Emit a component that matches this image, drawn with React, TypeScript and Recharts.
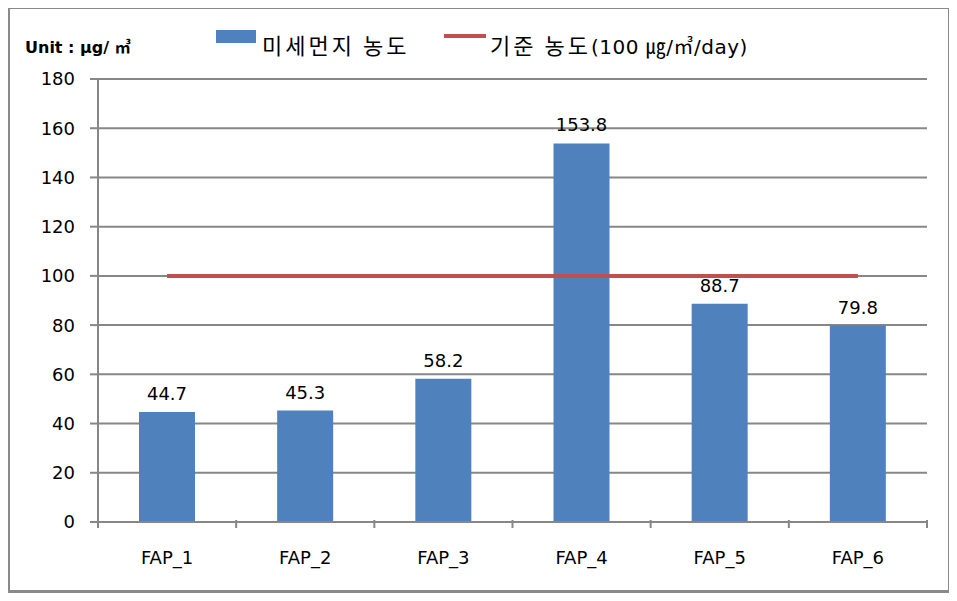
import React from 'react';
import { ComposedChart, Bar, Line, XAxis, YAxis, CartesianGrid, LabelList } from 'recharts';

const categories = ['FAP_1', 'FAP_2', 'FAP_3', 'FAP_4', 'FAP_5', 'FAP_6'];
const dustValues = [44.7, 45.3, 58.2, 153.8, 88.7, 79.8];
const standardValues = [100, 100, 100, 100, 100, 100];
const yTicks = [0, 20, 40, 60, 80, 100, 120, 140, 160, 180];

const data = categories.map((name, i) => ({
  name,
  dust: dustValues[i],
  standard: standardValues[i],
}));

const FONT = '"DejaVu Sans", "Noto Sans CJK KR", sans-serif';
const KFONT = '"Noto Sans CJK KR", "DejaVu Sans", sans-serif';
const GRID = '#878787';

const CategoryTick = (props: any) => {
  const { x, y, width, visibleTicksCount, payload, index } = props;
  const half = width / visibleTicksCount / 2;
  return (
    <g>
      {index === 0 && <line x1={x - half} y1={y - 10} x2={x - half} y2={y - 2} stroke={GRID} strokeWidth={2} />}
      <line x1={x + half} y1={y - 10} x2={x + half} y2={y - 2} stroke={GRID} strokeWidth={2} />
      <text x={x} y={y + 34} textAnchor="middle" fontSize={18} fill="#000" fontFamily={FONT}>
        {payload.value}
      </text>
    </g>
  );
};

const LegendBox = () => (
  <div style={{ position: 'absolute', left: 0, top: 0, width: 957, height: 70, color: '#000' }}>
    <div style={{ position: 'absolute', left: 25, top: 34, fontSize: 16, fontWeight: 700, fontFamily: FONT }}>
      Unit : μg/ ㎥
    </div>
    <div style={{ position: 'absolute', left: 216, top: 30, width: 40, height: 13, background: '#4f81bd' }} />
    <div style={{ position: 'absolute', left: 262, top: 28, fontSize: 22, letterSpacing: 3, fontFamily: KFONT, lineHeight: '32px' }}>
      미세먼지 농도
    </div>
    <div style={{ position: 'absolute', left: 444, top: 34, width: 42, height: 4, background: '#c0504d' }} />
    <div style={{ position: 'absolute', left: 490, top: 28, whiteSpace: 'nowrap', lineHeight: '32px' }}>
      <span style={{ fontSize: 22, letterSpacing: 3, fontFamily: KFONT }}>기준 농도</span>
      <span style={{ fontSize: 20, letterSpacing: 0.5, fontFamily: FONT }}>(100 ㎍/㎥/day)</span>
    </div>
  </div>
);

export default function App() {
  return (
    <div style={{ position: 'relative', width: 957, height: 601, margin: -8, background: '#fff' }}>
      <div
        style={{
          position: 'absolute',
          left: 7,
          top: 6,
          width: 938,
          height: 581,
          border: '3px solid #8a8a8a',
        }}
      />
      <div style={{ position: 'absolute', left: 0, top: 0 }}>
        <ComposedChart
          width={957}
          height={601}
          data={data}
          margin={{ top: 79, right: 30, bottom: 0, left: 0 }}
          barCategoryGap={0}
        >
          <CartesianGrid vertical={false} stroke={GRID} strokeWidth={2} />
          <XAxis
            dataKey="name"
            axisLine={{ stroke: GRID, strokeWidth: 2 }}
            tickLine={false}
            tick={<CategoryTick />}
            interval={0}
            height={79}
          />
          <YAxis
            domain={[0, 180]}
            ticks={yTicks}
            width={98}
            axisLine={{ stroke: GRID, strokeWidth: 2 }}
            tickLine={{ stroke: GRID, strokeWidth: 2 }}
            tickSize={8}
            tickMargin={15}
            tick={{ fontSize: 18, fill: '#000', fontFamily: FONT }}
          />
          <Bar dataKey="dust" fill="#4f81bd" barSize={56} isAnimationActive={false}>
            <LabelList
              dataKey="dust"
              position="top"
              offset={12}
              style={{ fontSize: 18, fill: '#000', fontFamily: FONT }}
            />
          </Bar>
          <Line
            dataKey="standard"
            stroke="#c0504d"
            strokeWidth={4}
            dot={false}
            activeDot={false}
            isAnimationActive={false}
          />
        </ComposedChart>
      </div>
      <LegendBox />
    </div>
  );
}
